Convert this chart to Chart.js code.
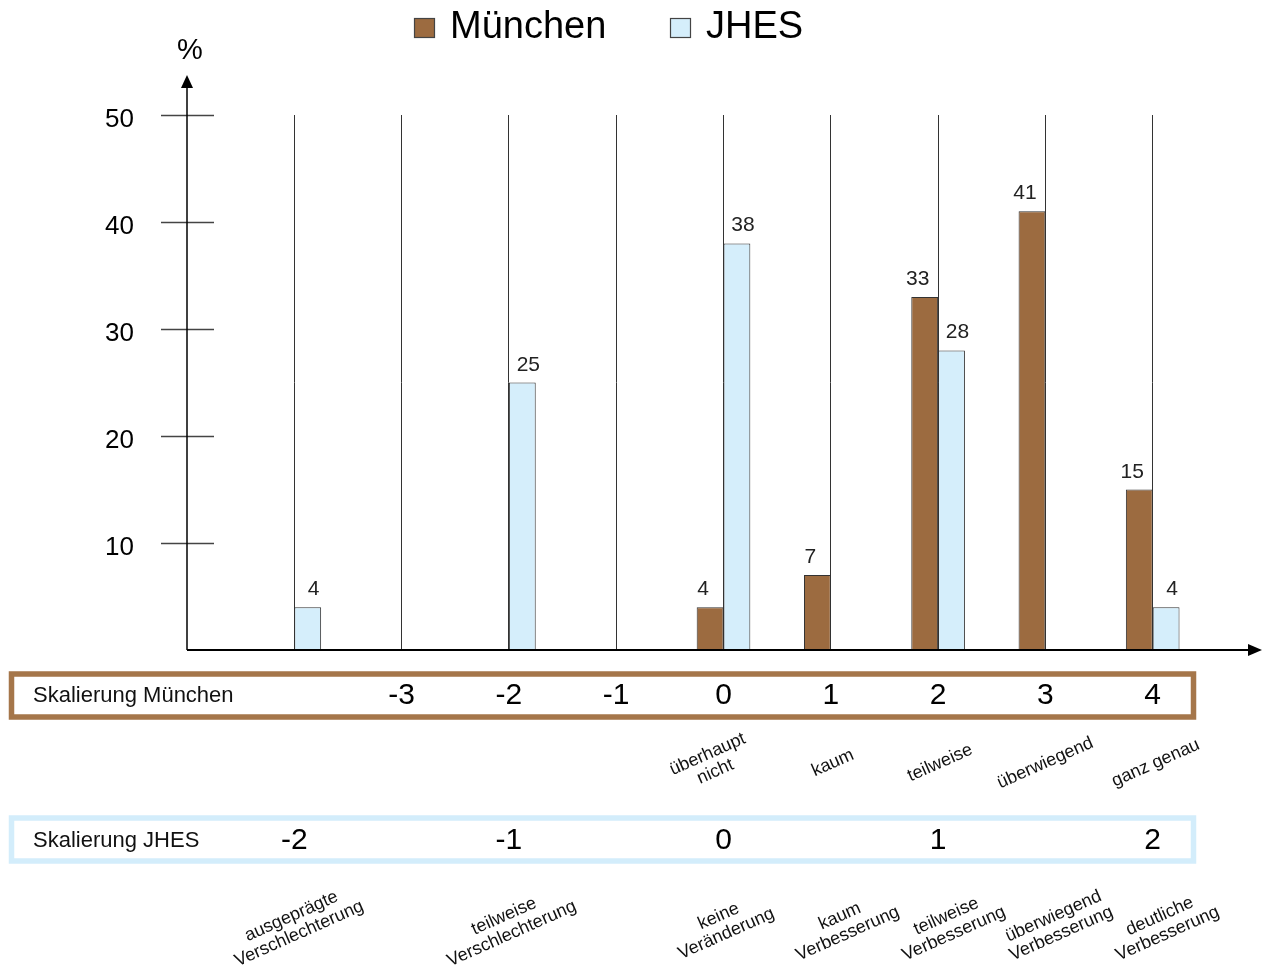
<!DOCTYPE html>
<html><head><meta charset="utf-8">
<script src="https://cdn.jsdelivr.net/npm/chart.js@4.4.1/dist/chart.umd.min.js"></script>
<style>html,body{margin:0;padding:0;background:#fff;} canvas{display:block;}</style>
</head><body>
<canvas id="c" width="1267" height="969"></canvas>
<script>
// ---- data ----
const positions = [1, 2, 3, 4, 5, 6, 7, 8, 9];
const muenchenValues = [null, null, null, null, 4, 7, 33, 41, 15];
const jhesValues = [4, null, 25, null, 38, null, 28, null, 4];
const yTickValues = [10, 20, 30, 40, 50];
const seriesNames = ['München', 'JHES'];
const scaleMuenchenPos = [2, 3, 4, 5, 6, 7, 8, 9];
const scaleMuenchenLabels = ['-3', '-2', '-1', '0', '1', '2', '3', '4'];
const scaleJhesPos = [1, 3, 5, 7, 9];
const scaleJhesLabels = ['-2', '-1', '0', '1', '2'];
const muenchenTextPos = [5, 6, 7, 8, 9];
const muenchenTexts = [['überhaupt', 'nicht'], ['kaum'], ['teilweise'], ['überwiegend'], ['ganz genau']];
const jhesTextPos = [1, 3, 5, 6, 7, 8, 9];
const jhesTexts = [['ausgeprägte', 'Verschlechterung'], ['teilweise', 'Verschlechterung'], ['keine', 'Veränderung'], ['kaum', 'Verbesserung'], ['teilweise', 'Verbesserung'], ['überwiegend', 'Verbesserung'], ['deutliche', 'Verbesserung']];
const boxTitles = ['Skalierung München', 'Skalierung JHES'];
const yUnit = '%';

// ---- style ----
const FF = '"Liberation Sans", Arial, Helvetica, sans-serif';
const C_BROWN = '#9c6b40';
const C_BLUE = '#d5eefb';
const C_BROWN_BORDER = '#a5764a';
const C_BLUE_BORDER = '#d3edfb';
const muenchenTextDx = [-12, 2, 2, 0, 3];
const jhesTextDx = [1, -1, -1, 13, 12, 12, 11];
const labelDx = [-7, 6];

Chart.defaults.font.family = FF;

function toPoints(vals) {
  return positions.map((x, i) => ({ x: x, y: vals[i] })).filter(p => p.y !== null);
}

const overlay = {
  id: 'overlay',
  afterDatasetsDraw(chart) {
    const ctx = chart.ctx;
    const xs = chart.scales.x, ys = chart.scales.y;
    const x0 = xs.getPixelForValue(0);
    const y0 = ys.getPixelForValue(0);
    ctx.save();
    // y tick marks
    ctx.strokeStyle = '#444';
    ctx.lineWidth = 1.5;
    yTickValues.forEach(v => {
      const y = Math.round(ys.getPixelForValue(v)) + 0.5;
      ctx.beginPath(); ctx.moveTo(x0 - 26, y); ctx.lineTo(x0 + 27, y); ctx.stroke();
    });
    // y axis + arrow
    ctx.strokeStyle = '#000'; ctx.fillStyle = '#000';
    ctx.lineWidth = 1.5;
    ctx.beginPath(); ctx.moveTo(x0, y0); ctx.lineTo(x0, 84); ctx.stroke();
    ctx.beginPath(); ctx.moveTo(x0, 75); ctx.lineTo(x0 - 6, 88); ctx.lineTo(x0 + 6, 88); ctx.closePath(); ctx.fill();
    // x axis + arrow
    ctx.lineWidth = 2;
    ctx.beginPath(); ctx.moveTo(x0, y0); ctx.lineTo(1250, y0); ctx.stroke();
    ctx.beginPath(); ctx.moveTo(1262, y0); ctx.lineTo(1248, y0 - 6); ctx.lineTo(1248, y0 + 6); ctx.closePath(); ctx.fill();
    // unit
    ctx.font = '29px ' + FF; ctx.textAlign = 'center'; ctx.textBaseline = 'alphabetic';
    ctx.fillText(yUnit, x0 + 3, 59);
    // data labels
    ctx.font = '21px ' + FF; ctx.fillStyle = '#222';
    chart.data.datasets.forEach((ds, di) => {
      const meta = chart.getDatasetMeta(di);
      meta.data.forEach((el, i) => {
        ctx.fillText(String(ds.data[i].y), el.x + labelDx[di], el.y - 12);
      });
    });
    // legend
    const legendItems = [{ x: 414, c: C_BROWN }, { x: 670, c: C_BLUE }];
    ctx.font = '38px ' + FF; ctx.textAlign = 'left'; ctx.fillStyle = '#000';
    legendItems.forEach((it, i) => {
      ctx.fillStyle = it.c; ctx.fillRect(it.x, 18, 21, 20);
      ctx.strokeStyle = '#444'; ctx.lineWidth = 1.2; ctx.strokeRect(it.x + 0.5, 18.5, 20, 19);
      ctx.fillStyle = '#000';
      ctx.fillText(seriesNames[i], it.x + 36, 38);
    });
    // scale boxes
    const boxes = [
      { top: 674, color: C_BROWN_BORDER, pos: scaleMuenchenPos, labels: scaleMuenchenLabels, base: 704 },
      { top: 818, color: C_BLUE_BORDER, pos: scaleJhesPos, labels: scaleJhesLabels, base: 849 }
    ];
    boxes.forEach((b, bi) => {
      ctx.strokeStyle = b.color; ctx.lineWidth = 5.5;
      ctx.strokeRect(11.5, b.top, 1182, 43);
      ctx.fillStyle = '#111'; ctx.font = '22px ' + FF; ctx.textAlign = 'left';
      ctx.fillText(boxTitles[bi], 33, b.base - 2);
      ctx.font = '30px ' + FF; ctx.textAlign = 'center'; ctx.fillStyle = '#000';
      b.pos.forEach((p, i) => ctx.fillText(b.labels[i], xs.getPixelForValue(p), b.base));
    });
    // rotated descriptions
    const rows = [
      { pos: muenchenTextPos, texts: muenchenTexts, dx: muenchenTextDx, cy: 763 },
      { pos: jhesTextPos, texts: jhesTexts, dx: jhesTextDx, cy: 925 }
    ];
    ctx.font = '18px ' + FF; ctx.fillStyle = '#111'; ctx.textAlign = 'center'; ctx.textBaseline = 'middle';
    rows.forEach(r => {
      r.pos.forEach((p, i) => {
        const cx = xs.getPixelForValue(p) + r.dx[i];
        const lines = r.texts[i];
        ctx.save();
        ctx.translate(cx, r.cy);
        ctx.rotate(-24 * Math.PI / 180);
        const lh = 19;
        lines.forEach((t, li) => {
          ctx.fillText(t, 0, (li - (lines.length - 1) / 2) * lh);
        });
        ctx.restore();
      });
    });
    ctx.restore();
  }
};

new Chart(document.getElementById('c'), {
  type: 'bar',
  data: {
    datasets: [
      { label: seriesNames[0], data: toPoints(muenchenValues), backgroundColor: C_BROWN, borderColor: '#333', borderWidth: 1 },
      { label: seriesNames[1], data: toPoints(jhesValues), backgroundColor: C_BLUE, borderColor: '#333', borderWidth: 1 }
    ]
  },
  options: {
    responsive: false,
    animation: false,
    events: [],
    layout: { padding: { top: 115, bottom: 319, left: 0, right: 7 } },
    datasets: { bar: { categoryPercentage: 0.5, barPercentage: 1.0 } },
    plugins: { legend: { display: false }, tooltip: { enabled: false } },
    scales: {
      x: {
        type: 'linear', min: 0, max: 10, offset: false,
        ticks: { display: false, stepSize: 1 },
        grid: {
          offset: false, drawTicks: false, lineWidth: 1,
          color: c => (c.tick && c.tick.value >= 1 && c.tick.value <= 9) ? '#333' : 'rgba(0,0,0,0)'
        },
        border: { display: false },
        afterFit: s => { s.height = 0; }
      },
      y: {
        min: 0, max: 50,
        ticks: {
          stepSize: 10, padding: 53, labelOffset: 5, color: '#000', font: { size: 26, family: FF },
          callback: v => (yTickValues.includes(v) ? String(v) : '')
        },
        grid: { display: false, drawTicks: false },
        border: { display: false },
        afterFit: s => { s.width = 187; }
      }
    }
  },
  plugins: [overlay]
});
</script>
</body></html>
